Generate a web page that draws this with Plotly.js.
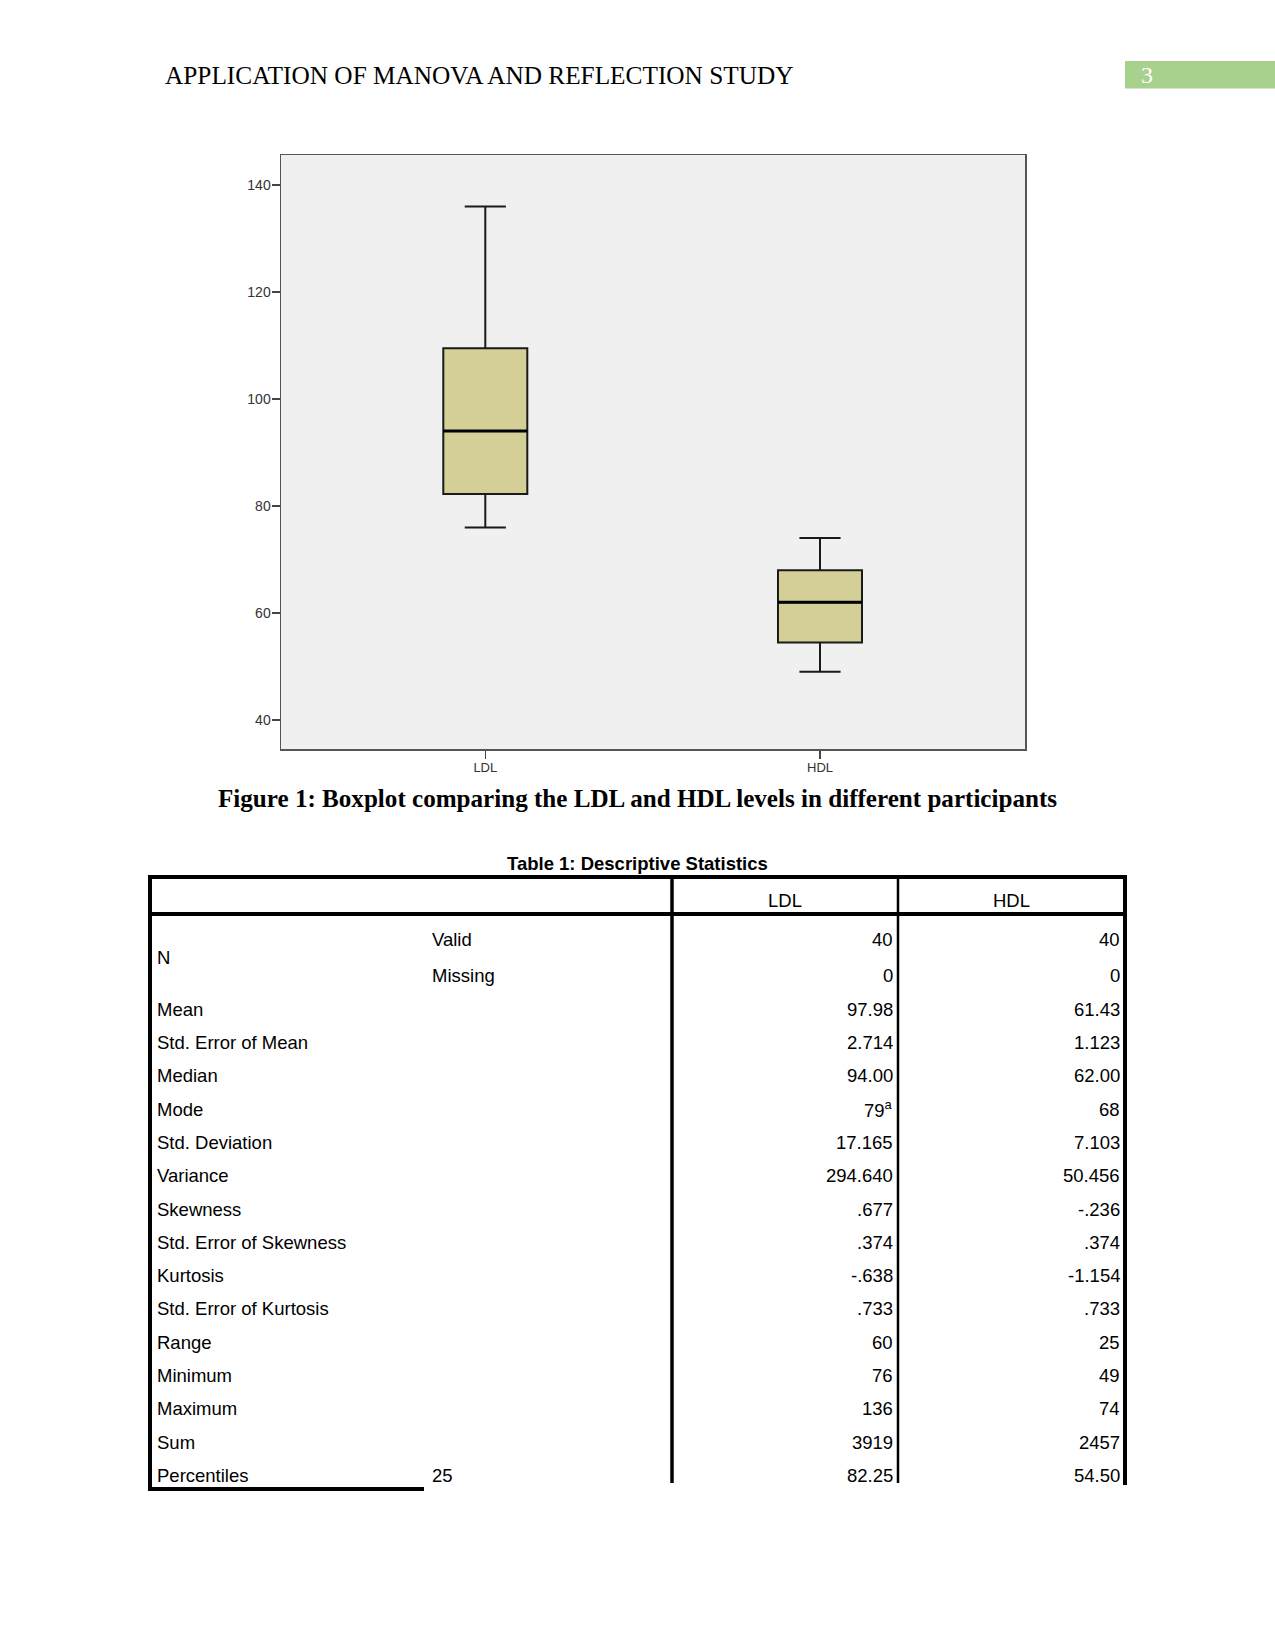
<!DOCTYPE html>
<html>
<head>
<meta charset="utf-8">
<script src="https://cdn.plot.ly/plotly-3.0.1.min.js"></script>
<style>
  html, body { margin: 0; padding: 0; background: #ffffff; }
  #page { width: 1275px; height: 1650px; }
</style>
</head>
<body>
<div id="page"></div>
<script>
// ---------- Data ----------
const categories = ['LDL', 'HDL'];
const lowerWhisker = [76, 49];
const q1Values = [82.25, 54.5];
const medianValues = [94, 62];
const q3Values = [109.5, 68];
const upperWhisker = [136, 74];
const yTickValues = [40, 60, 80, 100, 120, 140];

const headerText = 'APPLICATION OF MANOVA AND REFLECTION STUDY';
const pageNumber = '3';
const figureCaption = 'Figure 1: Boxplot comparing the LDL and HDL levels in different participants';
const tableTitle = 'Table 1: Descriptive Statistics';
const tableColumns = ['LDL', 'HDL'];
const nLabel = 'N';
const nSubLabels = ['Valid', 'Missing'];
const nLDL = ['40', '0'];
const nHDL = ['40', '0'];
const rowLabels = ['Mean', 'Std. Error of Mean', 'Median', 'Mode', 'Std. Deviation', 'Variance',
  'Skewness', 'Std. Error of Skewness', 'Kurtosis', 'Std. Error of Kurtosis', 'Range',
  'Minimum', 'Maximum', 'Sum', 'Percentiles'];
const ldlValues = ['97.98', '2.714', '94.00', '79<sup>a</sup>', '17.165', '294.640', '.677', '.374',
  '-.638', '.733', '60', '76', '136', '3919', '82.25'];
const hdlValues = ['61.43', '1.123', '62.00', '68', '7.103', '50.456', '-.236', '.374',
  '-1.154', '.733', '25', '49', '74', '2457', '54.50'];
const percentileSub = '25';

// ---------- Page geometry helpers ----------
const W = 1275, H = 1650;
const X = px => px / W;
const Y = py => 1 - py / H;

const sans = 'Liberation Sans, Arial, sans-serif';
const serif = 'Liberation Serif, Times New Roman, serif';

const annotations = [];
const shapes = [];

function text(t, x, y, opts) {
  annotations.push(Object.assign({
    text: t, xref: 'paper', yref: 'paper', x: X(x), y: Y(y),
    xanchor: 'left', yanchor: 'middle', showarrow: false,
    font: { family: sans, size: 18.5, color: '#000000' }
  }, opts || {}));
}
function line(x0, y0, x1, y1, w, color) {
  shapes.push({
    type: 'line', xref: 'paper', yref: 'paper',
    x0: X(x0), y0: Y(y0), x1: X(x1), y1: Y(y1),
    line: { color: color || '#000000', width: w }
  });
}

// Header
text(headerText, 163, 75, { font: { family: serif, size: 25.3, color: '#000000' } });
shapes.push({
  type: 'rect', xref: 'paper', yref: 'paper',
  x0: X(1125), x1: X(1275), y0: Y(88.5), y1: Y(61),
  fillcolor: '#a9d18e', line: { width: 0 }
});
text(pageNumber, 1147, 75, { xanchor: 'center', font: { family: serif, size: 24, color: '#ffffff' } });

// Caption
text('<b>' + figureCaption + '</b>', 637, 798, { xanchor: 'center', font: { family: serif, size: 25.1, color: '#000000' } });

// Table title
text('<b>' + tableTitle + '</b>', 637, 863, { xanchor: 'center', font: { family: sans, size: 18.5, color: '#000000' } });

// Table lines
const tL = 150, c1 = 672, c2 = 898, tR = 1125;
const tTop = 877, hSep = 914, tBottom = 1489;
line(148, tTop, 1127, tTop, 4);
line(148, hSep, 1127, hSep, 4);
line(tL, 875, tL, 1491, 4);
line(c1, 875, c1, 1483, 3.5);
line(c2, 875, c2, 1483, 2.5);
line(tR, 875, tR, 1485, 4);
line(148, tBottom, 424, tBottom, 4);

const ldlRight = 895, hdlRight = 1122;

// Table header
text(tableColumns[0], (c1 + c2) / 2, 900.5, { xanchor: 'center' });
text(tableColumns[1], (c2 + tR) / 2, 900.5, { xanchor: 'center' });

// N rows
const nRowY = [939, 975.5];
text(nLabel, 155, 957.5);
nSubLabels.forEach((s, i) => {
  text(s, 430, nRowY[i]);
  text(nLDL[i], ldlRight, nRowY[i], { xanchor: 'right' });
  text(nHDL[i], hdlRight, nRowY[i], { xanchor: 'right' });
});

// Remaining rows
rowLabels.forEach((lab, i) => {
  const y = 1009.2 + i * 33.3;
  text(lab, 155, y);
  text(ldlValues[i], ldlRight, y, { xanchor: 'right' });
  text(hdlValues[i], hdlRight, y, { xanchor: 'right' });
});
text(percentileSub, 430, 1009.2 + 14 * 33.3);

// ---------- Chart ----------
const boxWidth = 0.251;
const trace = {
  type: 'box',
  x: categories,
  lowerfence: lowerWhisker,
  q1: q1Values,
  median: medianValues,
  q3: q3Values,
  upperfence: upperWhisker,
  fillcolor: '#d3cf97',
  line: { color: '#1a1a1a', width: 2 },
  width: boxWidth,
  whiskerwidth: 0.49,
  boxpoints: false,
  hoverinfo: 'skip',
  showlegend: false
};

// Thicker median lines (SPSS style), positioned from the median data on the category axis
medianValues.forEach((m, i) => {
  shapes.push({
    type: 'line', xref: 'x', yref: 'y',
    x0: i - boxWidth / 2, x1: i + boxWidth / 2, y0: m, y1: m,
    line: { color: '#000000', width: 3 }
  });
});

const layout = {
  width: W, height: H,
  margin: { l: 0, r: 0, t: 0, b: 0 },
  paper_bgcolor: '#ffffff',
  plot_bgcolor: '#f0f0f0',
  showlegend: false,
  xaxis: {
    domain: [X(281), X(1025)],
    type: 'category',
    range: [-0.6104, 1.6125],
    showgrid: false, zeroline: false,
    showline: true, mirror: true, linecolor: '#555555', linewidth: 1.5,
    ticks: 'outside', ticklen: 8, tickwidth: 1.5, tickcolor: '#444444',
    ticklabelstandoff: -2,
    tickfont: { family: sans, size: 13, color: '#333333' }
  },
  yaxis: {
    domain: [Y(749), Y(155)],
    range: [34.58, 145.61],
    tickvals: yTickValues,
    showgrid: false, zeroline: false,
    showline: true, mirror: true, linecolor: '#555555', linewidth: 1.5,
    ticks: 'outside', ticklen: 8, tickwidth: 1.5, tickcolor: '#444444',
    ticklabelstandoff: -2,
    tickfont: { family: sans, size: 14, color: '#333333' }
  },
  annotations: annotations,
  shapes: shapes
};

Plotly.newPlot('page', [trace], layout, { displayModeBar: false, staticPlot: true });
</script>
</body>
</html>
